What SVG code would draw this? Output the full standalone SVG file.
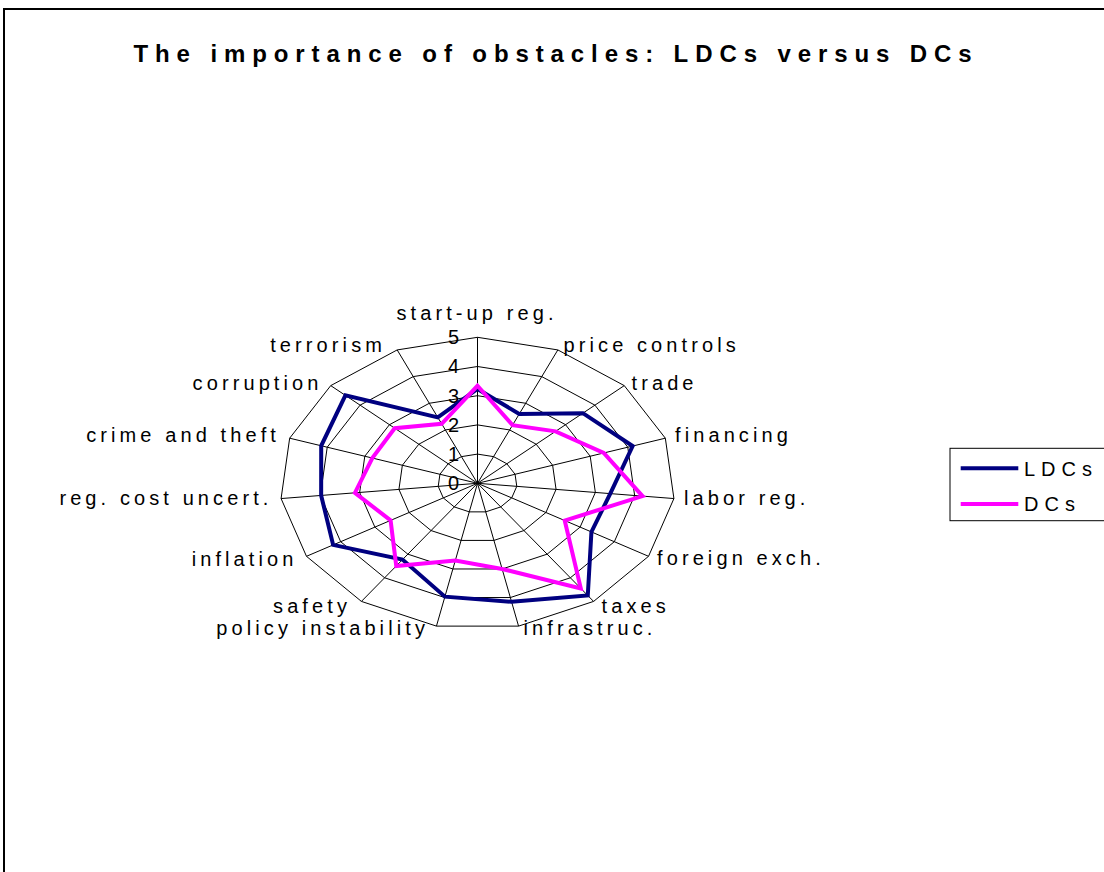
<svg xmlns="http://www.w3.org/2000/svg" width="1104" height="872" viewBox="0 0 1104 872">
<style>
.grid{fill:none;stroke:#000;stroke-width:1}
.ser{fill:none;stroke-width:4;stroke-linejoin:miter}
.ldc{stroke:#000080}
.dc{stroke:#FF00FF}
.lab{font-family:"Liberation Sans",Arial,sans-serif;font-size:20px;letter-spacing:4.1px;fill:#000}
.val{font-family:"Liberation Sans",Arial,sans-serif;font-size:20px;fill:#000;text-anchor:end}
.title{font-family:"Liberation Sans",Arial,sans-serif;font-size:24px;font-weight:bold;letter-spacing:6.9px;fill:#000;text-anchor:middle}
.leg{font-family:"Liberation Sans",Arial,sans-serif;font-size:20px;letter-spacing:6px;fill:#000}
</style>
<rect width="1104" height="872" fill="#fff"/>
<path d="M4,872 V9 H1104" fill="none" stroke="#000" stroke-width="2"/>
<g id="title"><text class="title" x="556" y="62">The  importance of obstacles: LDCs versus DCs</text></g>
<g id="grid">
<polygon class="grid" points="477.5,454.1 493.57,456.63 506.85,463.76 515.07,474.28 516.78,486.35 511.71,497.9 500.72,506.92 485.71,511.86 469.29,511.86 454.28,506.92 443.29,497.9 438.22,486.35 439.93,474.28 448.15,463.76 461.44,456.63"/>
<polygon class="grid" points="477.5,424.9 509.63,429.95 536.2,444.22 552.64,465.25 556.07,489.4 545.91,512.5 523.94,530.55 493.92,540.42 461.08,540.42 431.06,530.55 409.09,512.5 398.93,489.4 402.36,465.25 418.8,444.22 445.37,429.95"/>
<polygon class="grid" points="477.5,395.7 525.7,403.28 565.56,424.69 590.2,456.23 595.35,492.45 580.12,527.1 547.15,554.17 502.14,568.98 452.86,568.98 407.85,554.17 374.88,527.1 359.65,492.45 364.8,456.23 389.44,424.69 429.3,403.28"/>
<polygon class="grid" points="477.5,366.5 541.76,376.6 594.91,405.15 627.77,447.21 634.63,495.5 614.33,541.7 570.37,577.79 510.35,597.54 444.65,597.54 384.63,577.79 340.67,541.7 320.37,495.5 327.23,447.21 360.09,405.15 413.24,376.6"/>
<polygon class="grid" points="477.5,337.3 557.83,349.93 624.26,385.61 665.34,438.19 673.92,498.56 648.54,556.3 593.59,601.42 518.56,626.11 436.44,626.11 361.41,601.42 306.47,556.3 281.09,498.56 289.66,438.19 330.74,385.61 397.18,349.93"/>
<path class="grid" d="M477.5,483.3L477.5,337.3M477.5,483.3L557.83,349.93M477.5,483.3L624.26,385.61M477.5,483.3L665.34,438.19M477.5,483.3L673.92,498.56M477.5,483.3L648.54,556.3M477.5,483.3L593.59,601.42M477.5,483.3L518.56,626.11M477.5,483.3L436.44,626.11M477.5,483.3L361.41,601.42M477.5,483.3L306.47,556.3M477.5,483.3L281.09,498.56M477.5,483.3L289.66,438.19M477.5,483.3L330.74,385.61M477.5,483.3L397.18,349.93"/>
</g>
<g id="axis-values">
<text class="val" x="459" y="490">0</text>
<text class="val" x="459" y="460.5">1</text>
<text class="val" x="459" y="431.5">2</text>
<text class="val" x="459" y="402.5">3</text>
<text class="val" x="459" y="373.3">4</text>
<text class="val" x="459" y="343.5">5</text>
</g>
<g id="series">
<polygon id="LDCs" class="ser ldc" points="477.5,388.98 519.25,413.95 582.89,413.16 632.66,446.04 610.26,493.61 591.42,531.92 587.78,595.52 511.59,601.82 444.91,596.68 402.49,559.6 333.13,544.91 321.16,495.45 321.2,445.78 345.41,395.38 437.8,417.42"/>
<polygon id="DCs" class="ser dc" points="477.5,385.77 512.54,425.16 555.59,431.32 603.74,452.99 642.49,496.12 564.72,520.53 580.83,588.42 502.15,568.97 455.34,560.42 396.25,566 390.6,520.38 354.93,492.82 372.31,458.04 394.71,428.2 441.67,423.82"/>
</g>
<g id="category-labels">
<text class="lab" x="477" y="320" text-anchor="middle">start-up reg.</text>
<text class="lab" x="563.5" y="351.7">price controls</text>
<text class="lab" x="631.5" y="390">trade</text>
<text class="lab" x="675" y="441.7">financing</text>
<text class="lab" x="684" y="505">labor reg.</text>
<text class="lab" x="657" y="565">foreign exch.</text>
<text class="lab" x="601.5" y="613.3">taxes</text>
<text class="lab" x="523.5" y="635">infrastruc.</text>
<text class="lab" x="429" y="635" text-anchor="end">policy instability</text>
<text class="lab" x="351" y="613.3" text-anchor="end">safety</text>
<text class="lab" x="297.5" y="565.7" text-anchor="end">inflation</text>
<text class="lab" x="272.5" y="505" text-anchor="end">reg. cost uncert.</text>
<text class="lab" x="280" y="441.7" text-anchor="end">crime and theft</text>
<text class="lab" x="322.5" y="390" text-anchor="end">corruption</text>
<text class="lab" x="386" y="351.7" text-anchor="end">terrorism</text>
</g>
<g id="legend">
<rect x="950" y="448.3" width="170" height="72.4" fill="#fff" stroke="#000" stroke-width="1"/>
<line x1="960.7" y1="468.3" x2="1018.3" y2="468.3" stroke="#000080" stroke-width="4"/>
<text class="leg" x="1024" y="475.5">LDCs</text>
<line x1="960.7" y1="504" x2="1018.3" y2="504" stroke="#FF00FF" stroke-width="4"/>
<text class="leg" x="1024" y="511">DCs</text>
</g>
</svg>
